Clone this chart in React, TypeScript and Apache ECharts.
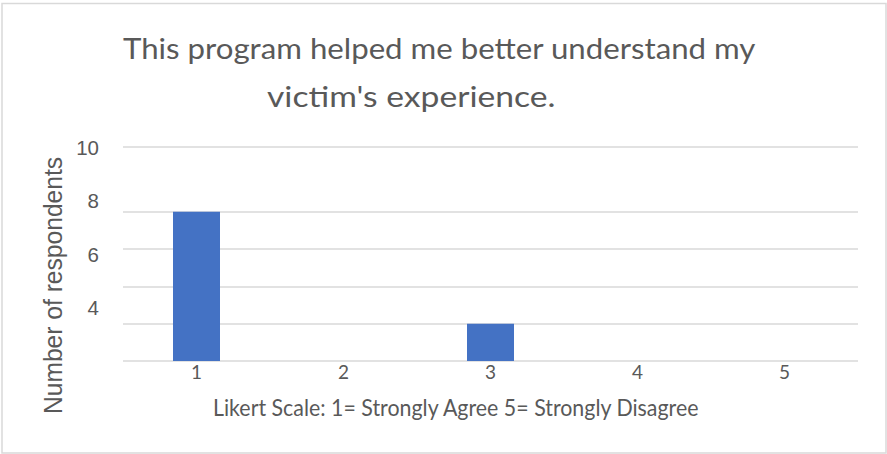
import React, { useEffect, useRef } from "react";
import * as echarts from "echarts";

const categories = ["1", "2", "3", "4", "5"];
const respondents = [8, 0, 2, 0, 0];
const gridValues = [0, 2, 4, 6, 8];
const valueAxisMax = 11.47;
const labelAxisMin = 2;
const labelAxisMax = 10;
const labelAxisStep = 2;

const titleLine1 = "This program helped me better understand my";
const titleLine2 = "victim's experience.";
const xAxisTitle = "Likert Scale: 1= Strongly Agree 5= Strongly Disagree";
const yAxisTitle = "Number of respondents";

const W = 887;
const H = 454;
const TEXT = "#595959";

export default function App() {
  const ref = useRef<HTMLDivElement>(null);

  useEffect(() => {
    document.body.style.margin = "0";
    const chart = echarts.init(ref.current!, null, { renderer: "svg", width: W, height: H });
    const ctx = document.createElement("canvas").getContext("2d")!;
    const fit = (text: string, size: number, family: string, target: number) => {
      ctx.font = `${size}px ${family}`;
      const m = ctx.measureText(text);
      const w = (m.actualBoundingBoxLeft || 0) + (m.actualBoundingBoxRight || m.width);
      return w > 0 ? target / w : 1;
    };

    const option: any = {
      animation: false,
      backgroundColor: "#ffffff",
      grid: { left: 123, right: 29, top: 147, bottom: 93, containLabel: false },
      xAxis: {
        type: "category",
        data: categories,
        axisLine: { show: false },
        axisTick: { show: false },
        splitLine: { show: false },
        axisLabel: { color: TEXT, fontFamily: "Lato", fontSize: 19, margin: 1 },
      },
      yAxis: [
        { type: "value", min: 0, max: valueAxisMax, show: false, splitLine: { show: false } },
        {
          type: "value",
          min: labelAxisMin,
          max: labelAxisMax,
          interval: labelAxisStep,
          position: "left",
          axisLine: { show: false },
          axisTick: { show: false },
          splitLine: { show: false },
          axisLabel: {
            showMinLabel: false,
            color: TEXT,
            fontFamily: "Liberation Sans",
            fontSize: 20.5,
            margin: 24,
          },
        },
      ],
      series: [
        {
          type: "bar",
          data: respondents,
          yAxisIndex: 0,
          barWidth: 47,
          itemStyle: { color: "#4472C4" },
          emphasis: { disabled: true },
          markLine: {
            silent: true,
            z: 1,
            symbol: ["none", "none"],
            label: { show: false },
            lineStyle: { color: "#d9d9d9", width: 1.5, type: "solid" },
            data: [...gridValues, valueAxisMax].map((v) => ({ yAxis: v })),
          },
        },
      ],
      graphic: [
        {
          type: "rect",
          shape: { x: 2, y: 3.5, width: 884, height: 449.5 },
          style: { fill: "none", stroke: "#d9d9d9", lineWidth: 1.5 },
          silent: true,
        },
        {
          type: "text",
          x: 123,
          y: 48,
          scaleX: fit(titleLine1, 28, "Lato", 634),
          style: { text: titleLine1, fill: TEXT, fontSize: 28, fontFamily: "Lato", align: "left", verticalAlign: "middle" },
        },
        {
          type: "text",
          x: 267,
          y: 96.5,
          scaleX: fit(titleLine2, 28, "Lato", 288),
          style: { text: titleLine2, fill: TEXT, fontSize: 28, fontFamily: "Lato", align: "left", verticalAlign: "middle" },
        },
        {
          type: "text",
          x: 213,
          y: 407,
          scaleX: fit(xAxisTitle, 24, "Lato", 485),
          style: { text: xAxisTitle, fill: TEXT, fontSize: 24, fontFamily: "Lato", align: "left", verticalAlign: "middle" },
        },
        {
          type: "text",
          x: 53,
          y: 285.5,
          rotation: Math.PI / 2,
          scaleX: fit(yAxisTitle, 25, "Liberation Sans", 255),
          style: { text: yAxisTitle, fill: TEXT, fontSize: 25, fontFamily: "Liberation Sans", align: "center", verticalAlign: "middle" },
        },
      ],
    };
    chart.setOption(option);
    return () => chart.dispose();
  }, []);

  return <div ref={ref} style={{ width: W, height: H, position: "fixed", left: 0, top: 0 }} />;
}
